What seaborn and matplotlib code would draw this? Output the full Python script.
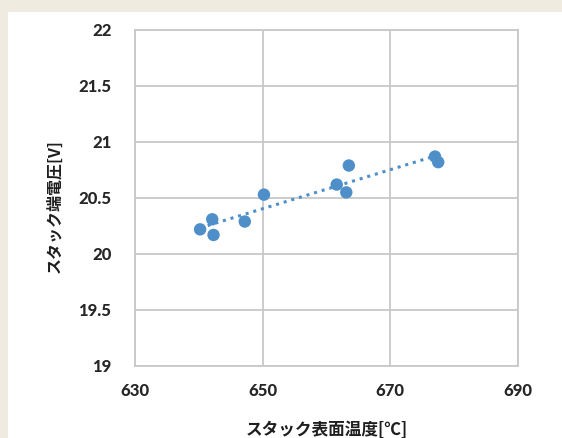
import numpy as np
import pandas as pd
import matplotlib
matplotlib.use("Agg")
import matplotlib.pyplot as plt
import seaborn as sns
from matplotlib.patches import Rectangle

# Stack surface temperature [°C] and stack terminal voltage [V]
temperature = [640.2, 642.1, 642.3, 647.2, 650.2, 661.6, 663.5, 663.1, 677.0, 677.5]
voltage = [20.22, 20.31, 20.17, 20.29, 20.53, 20.62, 20.79, 20.55, 20.87, 20.82]

x_ticks = [630, 650, 670, 690]
y_ticks = [19, 19.5, 20, 20.5, 21, 21.5, 22]
y_tick_labels = ["19", "19.5", "20", "20.5", "21", "21.5", "22"]

x_label = "スタック表面温度[℃]"
y_label = "スタック端電圧[V]"

df = pd.DataFrame({"temp": temperature, "volt": voltage})

sns.set_theme(style="white")
plt.rcParams["font.family"] = ["Noto Sans CJK JP", "DejaVu Sans"]

W, H = 562, 438
fig = plt.figure(figsize=(W / 100, H / 100), dpi=100)
fig.patch.set_facecolor("#EFEBE0")
panel = Rectangle((8 / W, 0), 1 - 8 / W, 1 - 12 / H,
                  transform=fig.transFigure, facecolor="white",
                  edgecolor="none", zorder=-10)
fig.patches.append(panel)

left, right, top, bottom = 135, 518, 30, 366
ax = fig.add_axes([left / W, 1 - bottom / H, (right - left) / W, (bottom - top) / H])
ax.set_zorder(5)
ax.set_facecolor("white")

blue = "#4F8FC9"

# linear trendline over the measured range
coef = np.polyfit(df["temp"], df["volt"], 1)
tx = np.array([df["temp"].min(), df["temp"].max()])
trend = pd.DataFrame({"temp": tx, "volt": np.polyval(coef, tx)})
sns.lineplot(data=trend, x="temp", y="volt", ax=ax, color=blue,
             linestyle=(0, (1, 1.6)), linewidth=2.2, zorder=3)

sns.scatterplot(data=df, x="temp", y="volt", ax=ax, color=blue, s=80,
                edgecolor="none", zorder=4)

ax.set_xlim(630, 690)
ax.set_ylim(19, 22)
ax.set_xticks(x_ticks)
ax.set_yticks(y_ticks)
ax.set_yticklabels(y_tick_labels)
ax.grid(True, color="#C8C8C8", linewidth=1.3)
ax.set_axisbelow(True)
for s in ax.spines.values():
    s.set_color("#C8C8C8")
    s.set_linewidth(1.3)

tick_color = "#262626"
ax.tick_params(axis="both", length=0, labelsize=12, colors=tick_color)
ax.tick_params(axis="y", pad=17)
ax.tick_params(axis="x", pad=12)
for lab in ax.get_xticklabels() + ax.get_yticklabels():
    lab.set_fontweight(900)
    lab.set_family(["Lato", "DejaVu Sans"])

ax.set_xlabel(x_label, fontsize=12, fontweight="bold", color="#1E1E1E")
ax.set_ylabel(y_label, fontsize=11.5, fontweight="bold", color="#1E1E1E")
ax.xaxis.set_label_coords(0.5, -0.164)
ax.yaxis.label.set_va("center")
ax.yaxis.set_label_coords(-0.211, 0.476)

fig.savefig("out.png", dpi=100, facecolor=fig.get_facecolor())
